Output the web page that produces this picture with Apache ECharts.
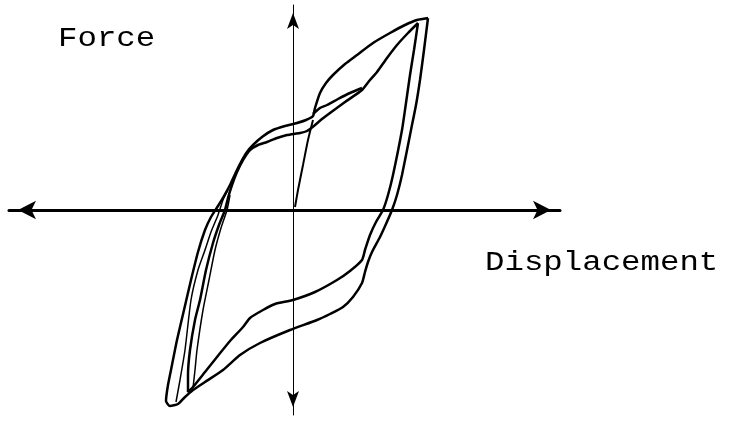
<!DOCTYPE html>
<html>
<head>
<meta charset="utf-8">
<script src="https://cdn.jsdelivr.net/npm/echarts@6/dist/echarts.min.js"></script>
<style>
  html, body { margin: 0; padding: 0; background: #fff; }
  #chart { width: 732px; height: 424px; }
</style>
</head>
<body>
<div id="chart"></div>
<script>
// outer cycle, traced clockwise from the top-right tip
const outerDisp = [13.5, 13.1, 12.7, 12.3, 11.8, 10.9, 10.4, 9.9, 9.3, 8.7, 7.9, 7.5, 7.2, 6.9, 6.0, 5.0, 3.7, 2.4, -0.3, -3.3, -5.3, -7.0, -8.8, -10.0, -10.9, -11.5, -12.3, -12.7, -12.5, -12.1, -11.6, -10.9, -10.2, -9.5, -8.8, -8.2, -7.5, -6.9, -6.3, -5.7, -5.2, -4.6, -4.0, -3.1, -2.0, -0.8, 0.4, 1.3, 2.0, 2.2, 2.7, 3.3, 4.0, 5.2, 6.4, 8.0, 9.7, 11.2, 12.4, 13.5];
const outerForce = [19.2, 16.0, 13.0, 10.5, 8.0, 3.5, 1.5, 0, -1.4, -2.7, -4.2, -5.2, -6.2, -7.3, -8.7, -9.7, -10.4, -11.0, -12.0, -13.3, -14.5, -16.0, -17.2, -18.0, -18.8, -19.4, -19.6, -19.1, -17.5, -15.5, -13.0, -10.0, -7.0, -4.2, -2.0, -0.7, 0.4, 1.4, 2.5, 3.8, 4.8, 5.8, 6.5, 7.3, 8.0, 8.4, 8.7, 9.0, 9.4, 10.2, 11.7, 12.7, 13.5, 14.6, 15.5, 16.7, 17.7, 18.5, 19.0, 19.2];

// inner cycle
const innerDisp = [12.5, 12.1, 11.7, 11.3, 10.9, 10.0, 9.5, 9.0, 8.3, 7.7, 7.2, 6.9, 5.7, 4.4, 2.2, 0, -1.8, -3.0, -4.3, -5.0, -6.3, -7.6, -8.8, -10.0, -10.5, -10.5, -10.3, -9.8, -9.3, -8.7, -8.0, -7.4, -6.8, -6.5, -6.1, -5.6, -5.0, -4.3, -3.5, -2.6, -1.6, -0.6, 0.7, 1.4, 2.2, 2.9, 3.7, 5.2, 6.9, 7.7, 8.4, 9.4, 10.4, 11.5, 12.5];
const innerForce = [18.7, 16.0, 13.5, 10.7, 8.0, 3.5, 1.5, 0, -1.2, -2.5, -4.0, -5.0, -6.1, -7.0, -8.2, -9.0, -9.4, -10.0, -10.8, -11.7, -13.1, -14.7, -16.2, -17.7, -18.2, -16.5, -14.0, -11.0, -9.0, -6.0, -3.3, -1.5, 0, 1.2, 2.5, 3.8, 5.0, 6.0, 6.5, 6.8, 7.2, 7.5, 7.7, 7.9, 8.5, 9.1, 9.7, 10.8, 12.0, 13.0, 13.8, 15.2, 16.5, 17.7, 18.7];

// second strokes alongside the two reloading branches on the left
const outerPairDisp = [-11.7, -11.3, -10.8, -10.2, -9.5, -8.8, -8.2, -7.5, -7.0, -6.5];
const outerPairForce = [-19.2, -17.0, -14.0, -9.0, -6.0, -4.0, -2.2, -0.5, 1.0, 2.0];
const innerPairDisp = [-10.0, -9.8, -9.6, -9.0, -8.4, -7.8, -7.2, -6.6, -6.3];
const innerPairForce = [-17.8, -16.0, -14.0, -10.0, -7.0, -4.0, -1.8, 0, 1.5];

// small lens above the pinch and the steep drop toward the origin
const lensDisp = [2.0, 2.7, 3.4, 4.5, 5.7, 6.9];
const lensForce = [9.6, 10.2, 10.5, 11.1, 11.7, 12.2];
const dropDisp = [2.0, 1.5, 1.0, 0.5, 0.2];
const dropForce = [9.0, 7.0, 4.5, 2.0, 0.3];

const axisLabels = ['Force', 'Displacement'];

function pairs(xs, ys) {
  return xs.map((x, i) => [x, ys[i]]);
}

function curve(xs, ys, width) {
  return {
    type: 'line',
    data: pairs(xs, ys),
    showSymbol: false,
    smooth: 0.2,
    lineStyle: { color: '#000', width: width },
    silent: true
  };
}

const labelFont = '27px "Liberation Mono"';

const chart = echarts.init(document.getElementById('chart'));
chart.setOption({
  animation: false,
  backgroundColor: '#fff',
  grid: { left: 9, right: 172, top: 5, bottom: 9, containLabel: false },
  xAxis: {
    type: 'value',
    min: -28.4,
    max: 26.7,
    axisLine: {
      onZero: true,
      symbol: ['arrow', 'arrow'],
      symbolSize: [14, 18],
      symbolOffset: [9, -9],
      lineStyle: { color: '#000', width: 3 }
    },
    axisTick: { show: false },
    axisLabel: { show: false },
    splitLine: { show: false }
  },
  yAxis: {
    type: 'value',
    min: -20.5,
    max: 20.5,
    axisLine: {
      onZero: true,
      symbol: ['arrow', 'arrow'],
      symbolSize: [9, 16],
      symbolOffset: [8, -8],
      lineStyle: { color: '#000', width: 1 }
    },
    axisTick: { show: false },
    axisLabel: { show: false },
    splitLine: { show: false }
  },
  graphic: [
    {
      type: 'text',
      x: 58,
      y: 25,
      scaleX: 1.2,
      style: { text: axisLabels[0], font: labelFont, fill: '#000', textVerticalAlign: 'top' }
    },
    {
      type: 'text',
      x: 485,
      y: 249,
      scaleX: 1.2,
      style: { text: axisLabels[1], font: labelFont, fill: '#000', textVerticalAlign: 'top' }
    }
  ],
  series: [
    curve(outerDisp, outerForce, 2.5),
    curve(innerDisp, innerForce, 2.5),
    curve(outerPairDisp, outerPairForce, 1.5),
    curve(innerPairDisp, innerPairForce, 1.5),
    curve(lensDisp, lensForce, 2.5),
    curve(dropDisp, dropForce, 2)
  ]
});
</script>
</body>
</html>
